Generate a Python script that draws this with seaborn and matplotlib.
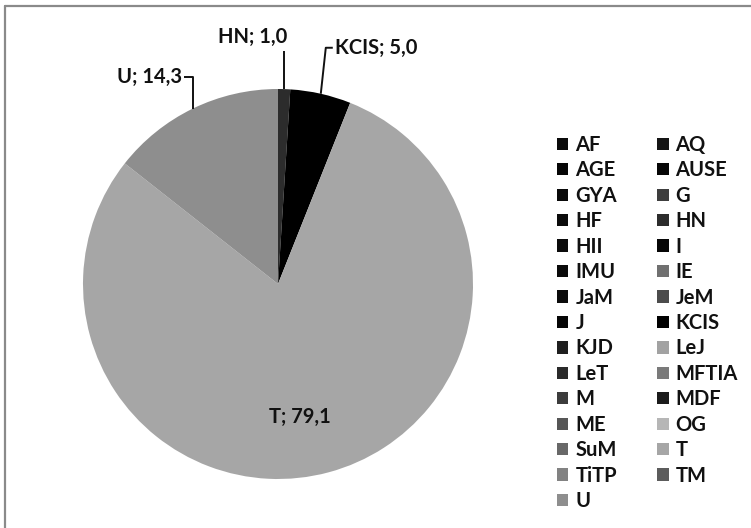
"""
Pie chart of category shares (percent) with a two-column legend.
"""

import matplotlib

matplotlib.use("Agg")

import matplotlib.pyplot as plt
import numpy as np
import seaborn as sns
from matplotlib.lines import Line2D

# data, in the order the legend lists it (row by row)
categories = [
    "AF", "AQ", "AGE", "AUSE", "GYA", "G", "HF", "HN", "HII", "I",
    "IMU", "IE", "JaM", "JeM", "J", "KCIS", "KJD", "LeJ", "LeT", "MFTIA",
    "M", "MDF", "ME", "OG", "SuM", "T", "TiTP", "TM", "U",
]
shares = [
    0.0, 0.0, 0.0, 0.0, 0.0, 0.0, 0.0, 1.0, 0.0, 0.0,
    0.0, 0.0, 0.0, 0.0, 0.0, 5.0, 0.0, 0.0, 0.0, 0.0,
    0.0, 0.0, 0.0, 0.0, 0.0, 79.1, 0.0, 0.0, 14.3,
]
labelled = ["HN", "KCIS", "U", "T"]

# grey shades per category
greys = [
    "#0a0a0a", "#151515", "#060606", "#060606", "#090909", "#3e3e3e", "#0b0b0b", "#2c2c2c", "#0b0b0b", "#060606",
    "#0a0a0a", "#707070", "#0b0b0b", "#4c4c4c", "#060606", "#000000", "#1f1f1f", "#a2a2a2", "#2a2a2a", "#7a7a7a",
    "#3c3c3c", "#1b1b1b", "#565656", "#b6b6b6", "#686868", "#a6a6a6", "#828282", "#5c5c5c", "#8e8e8e",
]

sns.set_theme(style="white")
plt.rcParams["font.family"] = ["Lato", "DejaVu Sans"]

W, H = 751, 528
CX, CY, R = 278, 284, 195  # pie centre and radius in pixels

fig = plt.figure(figsize=(W / 100, H / 100), dpi=100)
ax = fig.add_axes([(CX - R) / W, (H - CY - R) / H, 2 * R / W, 2 * R / H])

palette = sns.color_palette(greys)
wedges, _ = ax.pie(
    shares,
    colors=palette,
    startangle=90,
    counterclock=False,
    radius=1.0,
    wedgeprops=dict(linewidth=0),
)
ax.set_xlim(-1, 1)
ax.set_ylim(-1, 1)
ax.set_aspect("equal")
ax.axis("off")


def fmt(v):
    return f"{v:.1f}".replace(".", ",")


def px(d):
    return d / R


lbl_kw = dict(fontsize=14.5, color="#111111", fontweight="bold", clip_on=False)
line_kw = dict(color="#111111", lw=1.4, clip_on=False, solid_capstyle="butt")

for name in labelled:
    i = categories.index(name)
    w = wedges[i]
    mid = np.deg2rad((w.theta1 + w.theta2) / 2)
    ax_, ay_ = np.cos(mid), np.sin(mid)
    text = f"{name}; {fmt(shares[i])}"
    if name == "HN":
        top = ay_ + px(38)
        ax.plot([ax_, ax_], [ay_, top], **line_kw)
        ax.text(ax_ + px(3), top + px(4), text, ha="right", va="bottom", **lbl_kw)
    elif name == "KCIS":
        ex, ey = ax_ + px(5), ay_ + px(46)
        ax.plot([ax_, ex, ex + px(7)], [ay_, ey, ey], **line_kw)
        ax.text(ex + px(9), ey, text, ha="left", va="center", **lbl_kw)
    elif name == "U":
        ey = ay_ + px(32)
        ax.plot([ax_, ax_, ax_ - px(9)], [ay_, ey, ey], **line_kw)
        ax.text(ax_ - px(11), ey, text, ha="right", va="center", **lbl_kw)
    else:
        ax.text(px(22), px(-133), text, ha="center", va="center", **lbl_kw)

# matplotlib fills legend columns top to bottom, so feed it the row-major
# order split into a left and a right column
order = list(range(0, len(categories), 2)) + list(range(1, len(categories), 2))
handles = [
    plt.Rectangle((0, 0), 1, 1, facecolor=palette[k], edgecolor="none") for k in order
]
fig.legend(
    handles,
    [categories[k] for k in order],
    ncol=2,
    loc="upper left",
    bbox_to_anchor=(557 / W, 1 - 135 / H),
    frameon=False,
    prop=dict(size=14.5, weight="bold"),
    handlelength=0.56,
    handleheight=0.56,
    handletextpad=0.35,
    columnspacing=2.0,
    labelspacing=0.27,
    borderpad=0,
    borderaxespad=0,
    labelcolor="#111111",
)

# chart frame (only the top and left edges are visible in the crop)
fig.add_artist(Line2D([5 / W, 5 / W], [0, 1 - 6 / H], color="#8a8a8a", lw=1.6))
fig.add_artist(Line2D([5 / W, 1], [1 - 6 / H, 1 - 6 / H], color="#8a8a8a", lw=1.6))

fig.savefig("out.png", dpi=100)
